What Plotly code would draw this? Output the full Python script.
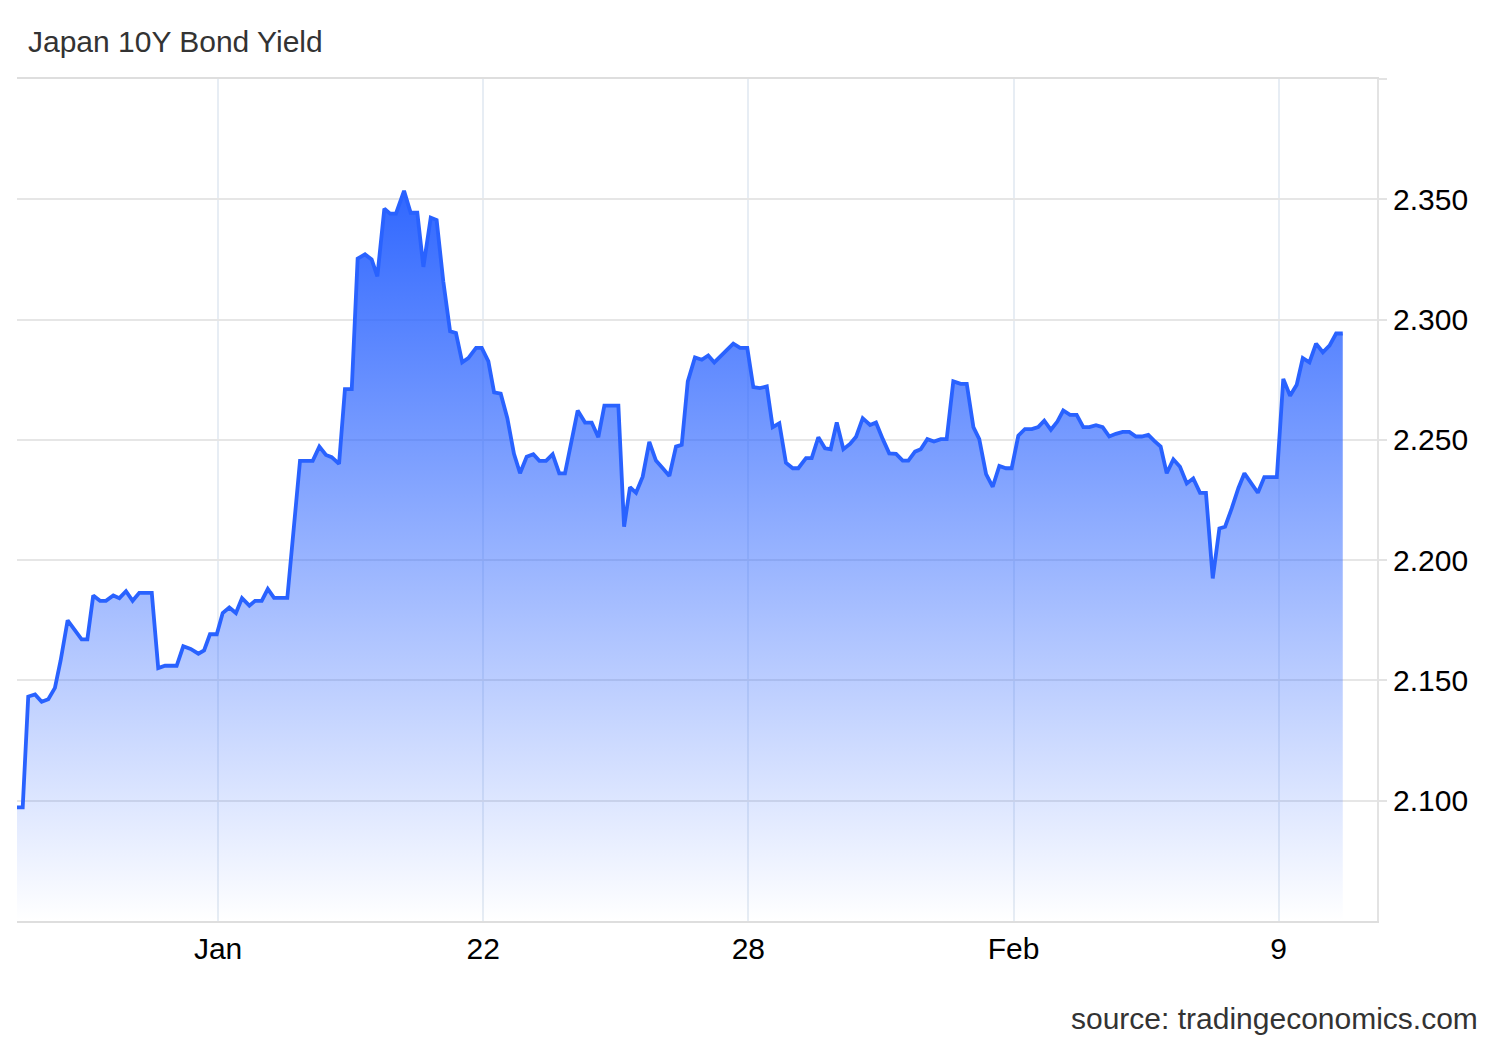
import pandas as pd
import plotly.graph_objects as go

# ---- data (hours after series start, yield %) ----
series_start = "2026-01-11 10:48"
hours = [
    0.0, 3.1, 6.1, 9.8, 13.4, 17.0, 20.6, 23.7, 27.5, 35.1, 38.2, 41.4, 45.1, 48.3, 52.3, 55.6,
    59.2, 62.8, 66.4, 73.2, 76.7, 80.4, 86.7, 90.3, 94.3, 98.5, 101.6, 104.8, 108.5, 111.7, 115.3,
    118.9, 122.2, 126.2, 129.3, 132.9, 136.2, 139.6, 146.8, 153.7, 160.6, 164.2, 167.8, 170.9,
    174.9, 178.1, 181.8, 185.0, 189.0, 192.6, 195.7, 199.5, 202.6, 205.8, 210.2, 213.8, 217.4,
    220.7, 224.7, 227.9, 231.5, 235.2, 238.4, 241.8, 245.1, 249.3, 252.4, 256.0, 259.1, 262.7,
    266.3, 269.9, 273.2, 276.8, 280.4, 283.7, 287.3, 290.9, 294.5, 297.6, 304.5, 308.5, 312.1,
    315.7, 319.0, 326.6, 329.7, 332.9, 336.2, 339.8, 343.4, 347.0, 350.7, 354.3, 357.9, 361.0,
    364.3, 368.2, 371.9, 375.4, 378.7, 382.7, 385.4, 389.0, 392.7, 396.6, 399.9, 403.5, 407.2,
    410.4, 414.0, 417.6, 421.3, 424.3, 428.5, 431.6, 435.2, 438.8, 441.9, 445.2, 448.8, 452.4,
    455.7, 459.3, 463.3, 466.5, 470.2, 473.7, 477.4, 481.0, 484.1, 487.7, 490.8, 494.4, 498.0,
    501.7, 504.9, 508.5, 512.5, 515.8, 519.4, 522.6, 526.3, 529.9, 533.5, 537.1, 540.2, 543.8,
    547.4, 551.1, 554.6, 557.9, 561.5, 565.0, 568.2, 571.9, 575.5, 579.1, 582.4, 586.0, 589.6,
    593.2, 596.8, 600.5, 604.1, 607.7, 610.8, 614.4, 617.5, 621.1, 624.4, 628.0, 631.6, 635.3,
    638.8, 642.5, 645.7, 649.4, 653.0, 656.1, 659.7, 663.3, 666.6, 670.2, 673.9, 677.4, 681.0,
    684.2, 687.7, 691.4, 695.0, 698.3, 701.9, 705.5, 709.2, 712.8, 716.4, 720.0,
]
yields = [
    2.0972, 2.0972, 2.1433, 2.1442, 2.1411, 2.1422, 2.1469, 2.1583, 2.1750, 2.1671, 2.1671, 2.1853,
    2.1831, 2.1831, 2.1853, 2.1842, 2.1871, 2.1831, 2.1864, 2.1864, 2.1551, 2.1561, 2.1561, 2.1642,
    2.1631, 2.1611, 2.1625, 2.1692, 2.1692, 2.1780, 2.1803, 2.1780, 2.1842, 2.1811, 2.1831, 2.1831,
    2.1880, 2.1843, 2.1843, 2.2413, 2.2413, 2.2472, 2.2437, 2.2428, 2.2400, 2.2711, 2.2711, 2.3253,
    2.3271, 2.3250, 2.3180, 2.3461, 2.3440, 2.3440, 2.3535, 2.3444, 2.3444, 2.3219, 2.3424, 2.3414,
    2.3159, 2.2951, 2.2944, 2.2822, 2.2840, 2.2882, 2.2882, 2.2826, 2.2697, 2.2692, 2.2590, 2.2442,
    2.2361, 2.2430, 2.2440, 2.2413, 2.2413, 2.2440, 2.2361, 2.2361, 2.2622, 2.2572, 2.2572, 2.2511,
    2.2642, 2.2642, 2.2139, 2.2303, 2.2280, 2.2347, 2.2492, 2.2414, 2.2382, 2.2350, 2.2472, 2.2479,
    2.2743, 2.2843, 2.2833, 2.2851, 2.2822, 2.2854, 2.2875, 2.2900, 2.2882, 2.2882, 2.2719, 2.2715,
    2.2722, 2.2553, 2.2569, 2.2405, 2.2382, 2.2382, 2.2424, 2.2424, 2.2511, 2.2465, 2.2461, 2.2572,
    2.2461, 2.2483, 2.2513, 2.2590, 2.2562, 2.2572, 2.2503, 2.2444, 2.2442, 2.2414, 2.2414, 2.2451,
    2.2461, 2.2503, 2.2493, 2.2503, 2.2503, 2.2743, 2.2733, 2.2733, 2.2553, 2.2503, 2.2358, 2.2305,
    2.2392, 2.2382, 2.2382, 2.2517, 2.2545, 2.2545, 2.2553, 2.2580, 2.2542, 2.2576, 2.2622, 2.2604,
    2.2604, 2.2553, 2.2553, 2.2561, 2.2553, 2.2514, 2.2525, 2.2533, 2.2533, 2.2514, 2.2514, 2.2521,
    2.2497, 2.2472, 2.2361, 2.2419, 2.2388, 2.2319, 2.2340, 2.2280, 2.2280, 2.1924, 2.2132, 2.2139,
    2.2215, 2.2299, 2.2361, 2.2319, 2.2280, 2.2345, 2.2345, 2.2345, 2.2753, 2.2683, 2.2729, 2.2840,
    2.2822, 2.2900, 2.2864, 2.2892, 2.2942, 2.2942,
]

x_tick_dates = ["2026-01-16", "2026-01-22", "2026-01-28", "2026-02-03", "2026-02-09"]
x_tick_labels = ["Jan", "22", "28", "Feb", "9"]
y_tick_values = [2.10, 2.15, 2.20, 2.25, 2.30, 2.35, 2.40]
y_tick_labels = ["2.100", "2.150", "2.200", "2.250", "2.300", "2.350", ""]

title_text = "Japan 10Y Bond Yield"
source_text = "source: tradingeconomics.com"

# ---- build ----
t0 = pd.Timestamp(series_start)
times = [t0 + pd.Timedelta(hours=h) for h in hours]
x_range = [t0, t0 + pd.Timedelta(hours=738.6)]

BLUE = "rgb(41,98,255)"
FONT = "Liberation Sans, Arial, Helvetica, sans-serif"

PLOT_W, PLOT_H = 1360, 842
ML, MT = 9, 71

fig = go.Figure()
fig.add_trace(go.Scatter(
    x=times, y=yields, mode="lines",
    line=dict(color=BLUE, width=3.8),
    fill="tozeroy",
    fillgradient=dict(
        type="vertical",
        colorscale=[[0.0, "rgba(41,98,255,0.0)"], [1.0, "rgba(41,98,255,0.97)"]],
        start=2.05, stop=2.355,
    ),
    hoverinfo="skip", showlegend=False,
))

fig.update_layout(
    width=1500, height=1040,
    margin=dict(l=ML, r=1500 - ML - PLOT_W, t=MT, b=1040 - MT - PLOT_H),
    paper_bgcolor="white", plot_bgcolor="white",
    font=dict(family=FONT, size=30, color="#000"),
    xaxis=dict(
        type="date", range=x_range,
        tickvals=[pd.Timestamp(d) for d in x_tick_dates], ticktext=x_tick_labels,
        showgrid=True, gridcolor="#e7edf4", gridwidth=1.5,
        showline=True, mirror=True, linecolor="#dedede", linewidth=2,
        ticks="", zeroline=False,
        tickfont=dict(size=30, color="#000", family=FONT),
    ),
    yaxis=dict(
        side="right", range=[2.05, 2.40],
        tickvals=y_tick_values, ticktext=y_tick_labels,
        showgrid=True, gridcolor="#e6e6e6", gridwidth=1.5,
        showline=True, linecolor="#e3e3e3", linewidth=2,
        ticks="outside", ticklen=8, tickcolor="#e3e3e3", tickwidth=1.5,
        zeroline=False,
        tickfont=dict(size=30, color="#000", family=FONT),
    ),
    annotations=[
        dict(text=title_text, xref="paper", yref="paper",
             x=(26 - 17) / PLOT_W, y=1 + (78 - 40) / PLOT_H, xanchor="left", yanchor="middle",
             showarrow=False, font=dict(size=30, color="#333", family=FONT)),
        dict(text=source_text, xref="paper", yref="paper",
             x=(1480 - 17) / PLOT_W, y=-(1017 - 920) / PLOT_H, xanchor="right", yanchor="middle",
             showarrow=False, font=dict(size=30, color="#333", family=FONT)),
    ],
)

fig.write_html("out.html")
